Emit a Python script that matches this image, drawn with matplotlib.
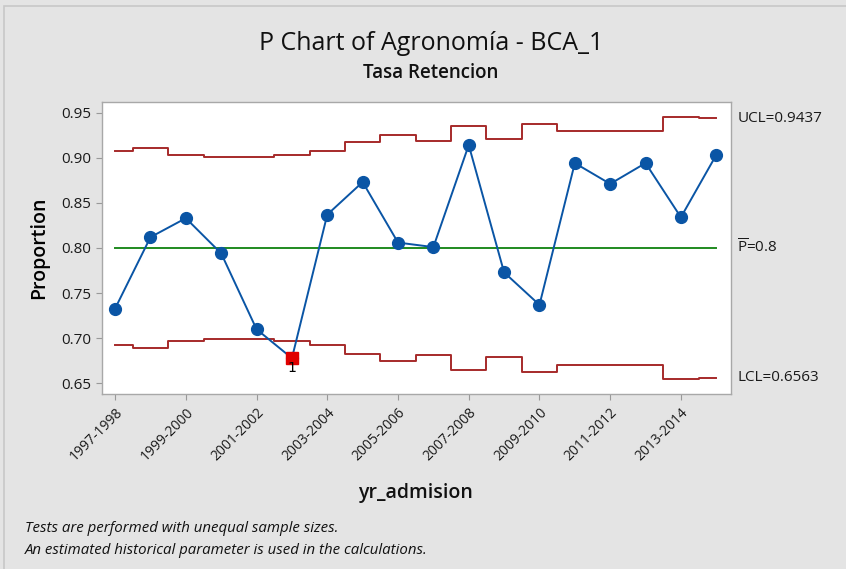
import matplotlib
matplotlib.use("Agg")
import matplotlib.pyplot as plt
import numpy as np
from matplotlib.patches import Rectangle

plt.rcParams['font.family'] = ['Open Sans', 'DejaVu Sans']
plt.rcParams['mathtext.fontset'] = 'custom'
plt.rcParams['mathtext.rm'] = 'Open Sans'

# academic years (x categories)
years = ["1997-1998", "1998-1999", "1999-2000", "2000-2001", "2001-2002", "2002-2003",
         "2003-2004", "2004-2005", "2005-2006", "2006-2007", "2007-2008", "2008-2009",
         "2009-2010", "2010-2011", "2011-2012", "2012-2013", "2013-2014", "2014-2015"]

# retention proportion per year
proportion = [0.733, 0.812, 0.833, 0.794, 0.710, 0.678, 0.837, 0.873, 0.806,
              0.801, 0.914, 0.773, 0.737, 0.894, 0.871, 0.894, 0.834, 0.903]

# control limits (unequal sample sizes -> varying limits)
ucl = [0.907, 0.911, 0.903, 0.901, 0.901, 0.903, 0.907, 0.917, 0.925,
       0.919, 0.935, 0.921, 0.937, 0.930, 0.929, 0.930, 0.945, 0.9437]
lcl = [0.693, 0.689, 0.697, 0.699, 0.699, 0.697, 0.693, 0.683, 0.675,
       0.681, 0.665, 0.679, 0.663, 0.670, 0.671, 0.670, 0.655, 0.6563]
p_bar = 0.8

# points failing test 1
failed = [5]

x = np.arange(len(years))

fig = plt.figure(figsize=(8.46, 5.69), dpi=100, facecolor='#e4e4e4')
fig.patches.append(Rectangle((4/846, -0.05), 1.2, 1 - 6/569 + 0.05, transform=fig.transFigure,
                             fill=False, edgecolor='#c8c8c8', linewidth=1.2))
ax = fig.add_axes([0.1202, 0.307, 0.744, 0.5143])
ax.set_facecolor('white')

red = '#a62a2a'
ax.step(x, ucl, where='mid', color=red, linewidth=1.4)
ax.step(x, lcl, where='mid', color=red, linewidth=1.4)
ax.plot([x[0], x[-1]], [p_bar, p_bar], color='#1f8a1f', linewidth=1.4)

ax.plot(x, proportion, color='#0a55a5', linewidth=1.4, marker='o', markersize=8.5,
        markerfacecolor='#0a55a5', markeredgecolor='#0a55a5', zorder=3)
for i in failed:
    ax.plot(x[i], proportion[i], marker='s', markersize=8, color='#e00000', zorder=4)
    ax.text(x[i], proportion[i] - 0.0105, '1', ha='center', va='center',
            fontsize=10, color='black', family='DejaVu Sans', zorder=6)

ax.set_xlim(-0.38, 17.42)
ax.set_ylim(0.638, 0.962)
ax.set_yticks([0.65, 0.70, 0.75, 0.80, 0.85, 0.90, 0.95])
ax.set_yticklabels(['%.2f' % v for v in ax.get_yticks()], fontsize=11, color='#1a1a1a')
ax.set_xticks(x[::2])
ax.set_xticklabels(years[::2], rotation=45, ha='right', rotation_mode='anchor',
                   fontsize=10, color='#1a1a1a')
ax.tick_params(axis='both', direction='out', length=4, color='#999999', width=0.8)
for s in ax.spines.values():
    s.set_color('#a8a8a8')
    s.set_linewidth(1.0)

# limit labels on the right
lab = dict(xycoords=('axes fraction', 'data'), textcoords='offset points', va='center',
           ha='left', fontsize=11, color='#1a1a1a')
ax.annotate('UCL=0.9437', (1.0, 0.9437), xytext=(4.5, 0), **lab)
ax.annotate(r'$\overline{\mathrm{P}}$=0.8', (1.0, p_bar), xytext=(4.5, 0), **lab)
ax.annotate('LCL=0.6563', (1.0, 0.6563), xytext=(4.5, 0), **lab)

fig.text(431/846, 1 - 43/569, 'P Chart of Agronomía - BCA_1', ha='center', va='center',
         fontsize=18, color='#111111')
fig.text(431/846, 1 - 73/569, 'Tasa Retencion', ha='center', va='center',
         fontsize=13.5, fontweight='semibold', color='#111111')
ax.set_ylabel('Proportion', fontsize=14, fontweight='semibold', labelpad=9)
fig.text(415/846, 1 - 493/569, 'yr_admision', ha='center', va='center',
         fontsize=14, fontweight='semibold', color='#111111')

fig.text(25/846, 1 - 528/569, 'Tests are performed with unequal sample sizes.',
         ha='left', va='center', fontsize=10.8, style='italic', color='#111111')
fig.text(25/846, 1 - 551/569, 'An estimated historical parameter is used in the calculations.',
         ha='left', va='center', fontsize=10.8, style='italic', color='#111111')

fig.savefig('out.png', dpi=100, facecolor=fig.get_facecolor())
